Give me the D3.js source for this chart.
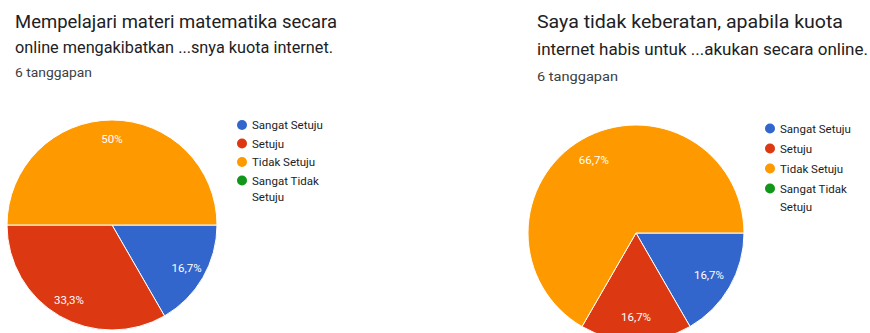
<!DOCTYPE html>
<html><head><meta charset="utf-8">
<script src="https://cdn.jsdelivr.net/npm/d3@7"></script>
<style>body{margin:0;background:#fff;}svg{display:block;font-family:Roboto,Arial,sans-serif;}</style>
</head><body>
<svg id="chart" width="870" height="333"></svg>
<script>
const categories = ["Sangat Setuju", "Setuju", "Tidak Setuju", "Sangat Tidak Setuju"];
const colors = ["#3366cc", "#dc3912", "#ff9900", "#109618"];
const values1 = [1, 2, 3, 0];
const values2 = [1, 1, 4, 0];
const title1 = ["Mempelajari materi matematika secara", "online mengakibatkan ...snya kuota internet."];
const title2 = ["Saya tidak keberatan, apabila kuota", "internet habis untuk ...akukan secara online."];
const responses = "6 tanggapan";

const svg = d3.select("#chart");
svg.append("rect").attr("width", 870).attr("height", 333).attr("fill", "#fff");

function fmt(p) {
  const v = Math.round(p * 1000) / 10;
  return (Number.isInteger(v) ? v.toString() : v.toFixed(1).replace(".", ",")) + "%";
}

function drawPanel(cfg) {
  const g = svg.append("g");
  g.append("text").attr("x", cfg.tx).attr("y", cfg.ty1).attr("font-size", 18).attr("fill", "#202124")
    .attr("textLength", cfg.w1).attr("lengthAdjust", "spacingAndGlyphs").text(cfg.title[0]);
  g.append("text").attr("x", cfg.tx).attr("y", cfg.ty2).attr("font-size", 16.5).attr("fill", "#202124")
    .attr("textLength", cfg.w2).attr("lengthAdjust", "spacingAndGlyphs").text(cfg.title[1]);
  g.append("text").attr("x", cfg.tx).attr("y", cfg.ty3).attr("font-size", 12.5).attr("fill", "#3c4043")
    .attr("textLength", cfg.w3).attr("lengthAdjust", "spacingAndGlyphs").text(responses);

  const total = d3.sum(cfg.values);
  const pie = d3.pie().sort(null).value(d => d)
    .startAngle(Math.PI / 2).endAngle(Math.PI / 2 + 2 * Math.PI);
  const arcs = pie(cfg.values);
  const arc = d3.arc().innerRadius(0).outerRadius(cfg.r);
  const lr = cfg.r * cfg.lf;
  const labelArc = d3.arc().innerRadius(lr).outerRadius(lr);
  const pg = g.append("g").attr("transform", `translate(${cfg.cx},${cfg.cy})`);
  pg.selectAll("path").data(arcs.filter(a => a.value > 0)).join("path")
    .attr("d", arc).attr("fill", d => colors[d.index])
    .attr("stroke", "#fff").attr("stroke-width", 1);
  pg.selectAll("text").data(arcs.filter(a => a.value > 0)).join("text")
    .attr("transform", d => `translate(${labelArc.centroid(d)})`)
    .attr("text-anchor", "middle").attr("dy", "0.35em")
    .attr("font-size", 11.5).attr("fill", "#fff")
    .text(d => fmt(d.value / total));

  const lg = g.append("g");
  categories.forEach((c, i) => {
    const y = cfg.ly + i * cfg.ls;
    lg.append("circle").attr("cx", cfg.lx).attr("cy", y).attr("r", 5).attr("fill", colors[i]);
    const words = c === "Sangat Tidak Setuju" ? ["Sangat Tidak", "Setuju"] : [c];
    words.forEach((w, j) => {
      lg.append("text").attr("x", cfg.lx + 10).attr("y", y + j * (cfg.ls - 2)).attr("dy", "0.35em")
        .attr("font-size", 11.5).attr("fill", "#222").text(w);
    });
  });
}

drawPanel({values: values1, title: title1, tx: 15, ty1: 28, ty2: 53, ty3: 77, w1: 322, w2: 318, w3: 77,
  cx: 112, cy: 225, r: 105, lf: 0.82, lx: 242, ly: 125, ls: 18.5});
drawPanel({values: values2, title: title2, tx: 537, ty1: 28, ty2: 55, ty3: 81, w1: 306, w2: 331, w3: 81,
  cx: 636, cy: 233, r: 108, lf: 0.78, lx: 770, ly: 128.5, ls: 20});
</script>
</body></html>
